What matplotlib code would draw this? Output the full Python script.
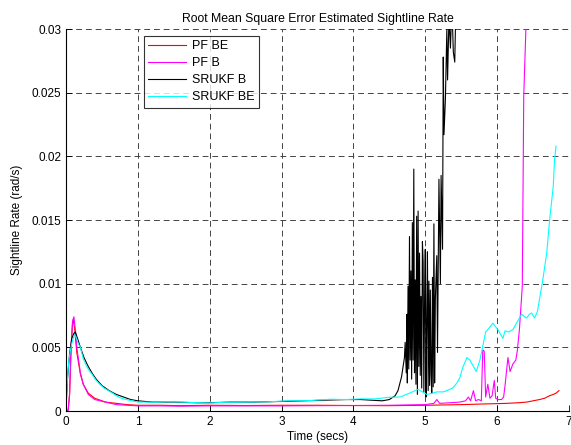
import numpy as np
import matplotlib
matplotlib.use("Agg")
import matplotlib.pyplot as plt

plt.rcParams['font.family'] = ['Liberation Sans', 'DejaVu Sans']

# PF BE
t_pf_be = [0, 0.03, 0.05, 0.07, 0.09, 0.10, 0.12, 0.15, 0.2, 0.24,
           0.31, 0.4, 0.55, 0.7, 0.85, 1.0, 1.3, 1.6, 2.0, 2.5,
           3.0, 3.5, 4.0, 4.5, 5.0, 5.2, 5.5, 5.8, 6.13, 6.3,
           6.41, 6.5, 6.59, 6.66, 6.73, 6.78, 6.82, 6.86]
v_pf_be = [0, 0.0001, 0.0013, 0.0048, 0.0068, 0.0072, 0.0065, 0.0046, 0.0029, 0.0021,
           0.0014, 0.0010, 0.0007, 0.0006, 0.0005, 0.00045, 0.00045, 0.00042, 0.00045, 0.00043,
           0.00045, 0.00045, 0.00043, 0.00042, 0.00045, 0.00047, 0.0005, 0.00055, 0.0006, 0.00065,
           0.0007, 0.0008, 0.0009, 0.0010, 0.0012, 0.0013, 0.0014, 0.0016]

# PF B
t_pf_b = [0, 0.03, 0.05, 0.07, 0.09, 0.11, 0.13, 0.15, 0.2, 0.24,
          0.31, 0.4, 0.55, 0.7, 0.85, 1.0, 1.3, 1.6, 2.0, 2.5,
          3.0, 3.5, 4.0, 4.5, 4.8, 5.0, 5.12, 5.16, 5.2, 5.35,
          5.48, 5.56, 5.6, 5.63, 5.67, 5.7, 5.74, 5.78, 5.8, 5.82,
          5.84, 5.87, 5.9, 5.93, 5.96, 5.98, 6.01, 6.06, 6.09, 6.11,
          6.15, 6.18, 6.22, 6.26, 6.28, 6.31, 6.35, 6.37, 6.40, 6.45]
v_pf_b = [0, 0, 0.0014, 0.0050, 0.0070, 0.0074, 0.0064, 0.0050, 0.0030, 0.0021,
          0.0013, 0.0009, 0.0007, 0.0005, 0.00045, 0.0004, 0.0004, 0.00038, 0.0004, 0.0004,
          0.0004, 0.00042, 0.00043, 0.00045, 0.00048, 0.0005, 0.0006, 0.0009, 0.0006, 0.00065,
          0.0007, 0.0008, 0.0011, 0.0008, 0.0016, 0.0008, 0.0009, 0.0008, 0.0048, 0.0047,
          0.0011, 0.0021, 0.0010, 0.0012, 0.0024, 0.0010, 0.0009, 0.0009, 0.0011, 0.0020,
          0.0042, 0.0031, 0.0037, 0.0040, 0.0047, 0.0064, 0.0098, 0.0247, 0.0300, 0.0360]

# SRUKF B
t_srukf_b = [0, 0.02, 0.05, 0.08, 0.11, 0.13, 0.16, 0.2, 0.25, 0.3,
             0.36, 0.42, 0.5, 0.6, 0.7, 0.8, 0.9, 1.0, 1.2, 1.5,
             1.8, 2.0, 2.3, 2.6, 3.0, 3.3, 3.6, 3.9, 4.1, 4.25,
             4.4, 4.5, 4.58, 4.62, 4.67, 4.71, 4.72, 4.735, 4.745, 4.75,
             4.76, 4.77, 4.78, 4.79, 4.80, 4.81, 4.82, 4.83, 4.84, 4.85,
             4.86, 4.87, 4.88, 4.89, 4.90, 4.91, 4.92, 4.93, 4.94, 4.95,
             4.96, 4.97, 4.98, 4.99, 5.00, 5.01, 5.02, 5.03, 5.04, 5.05,
             5.06, 5.07, 5.08, 5.09, 5.10, 5.11, 5.12, 5.13, 5.14, 5.16,
             5.17, 5.19, 5.21, 5.22, 5.24, 5.25, 5.26, 5.28, 5.30, 5.31,
             5.33, 5.35, 5.37, 5.39, 5.41, 5.43, 5.46]
v_srukf_b = [0.0002, 0.0025, 0.0045, 0.0057, 0.0061, 0.0062, 0.0057, 0.0050, 0.0042, 0.0036,
             0.0030, 0.0025, 0.0020, 0.0016, 0.0013, 0.0011, 0.0009, 0.0008, 0.0007, 0.0007,
             0.00065, 0.00065, 0.0007, 0.0007, 0.00075, 0.0008, 0.00085, 0.0009, 0.0009, 0.00085,
             0.0008, 0.0009, 0.0012, 0.0016, 0.0027, 0.0042, 0.0054, 0.0030, 0.0076, 0.0022,
             0.0098, 0.0033, 0.0137, 0.0040, 0.0110, 0.0025, 0.0148, 0.0040, 0.0190, 0.0030,
             0.0103, 0.0021, 0.0153, 0.0013, 0.0157, 0.0035, 0.0124, 0.0028, 0.0090, 0.0018,
             0.0133, 0.0117, 0.0015, 0.0085, 0.0127, 0.0011, 0.0070, 0.0125, 0.0016, 0.0102,
             0.0020, 0.0095, 0.0030, 0.0014, 0.0105, 0.0019, 0.0147, 0.0022, 0.0088, 0.0122,
             0.0046, 0.0182, 0.0100, 0.0185, 0.0127, 0.0278, 0.0217, 0.0245, 0.0300, 0.0260,
             0.0310, 0.0285, 0.0320, 0.0282, 0.0274, 0.0330, 0.0360]

# SRUKF BE
t_srukf_be = [0, 0.02, 0.04, 0.06, 0.08, 0.10, 0.12, 0.14, 0.17, 0.2,
              0.24, 0.28, 0.32, 0.36, 0.42, 0.47, 0.53, 0.59, 0.65, 0.7,
              0.77, 0.84, 0.92, 1.0, 1.1, 1.25, 1.4, 1.6, 1.8, 2.0,
              2.2, 2.5, 2.8, 3.1, 3.4, 3.67, 3.9, 4.1, 4.3, 4.5,
              4.65, 4.78, 4.9, 5.02, 5.1, 5.16, 5.25, 5.3, 5.38, 5.44,
              5.48, 5.52, 5.55, 5.58, 5.62, 5.66, 5.71, 5.76, 5.79, 5.84,
              5.9, 5.94, 5.98, 6.01, 6.05, 6.08, 6.11, 6.16, 6.22, 6.26,
              6.29, 6.34, 6.38, 6.41, 6.45, 6.48, 6.52, 6.56, 6.59, 6.63,
              6.69, 6.73, 6.78, 6.80, 6.82]
v_srukf_be = [0.0006, 0.0025, 0.0040, 0.0047, 0.0053, 0.0057, 0.0060, 0.0058, 0.0053, 0.0050,
              0.0041, 0.0036, 0.0032, 0.0029, 0.0024, 0.0021, 0.0018, 0.0016, 0.0014, 0.0012,
              0.0010, 0.0009, 0.0008, 0.0007, 0.0007, 0.00068, 0.00072, 0.0007, 0.00066, 0.00063,
              0.00068, 0.0007, 0.00072, 0.0008, 0.00082, 0.00092, 0.0009, 0.00095, 0.00095, 0.00108,
              0.0011, 0.0014, 0.0017, 0.0013, 0.0014, 0.0015, 0.0015, 0.0016, 0.0018, 0.0022,
              0.0026, 0.0034, 0.0038, 0.0042, 0.0040, 0.0036, 0.0031, 0.0040, 0.0048, 0.0062,
              0.0066, 0.0069, 0.0066, 0.0064, 0.0060, 0.0057, 0.0063, 0.0062, 0.0064, 0.0068,
              0.0071, 0.0076, 0.0074, 0.0073, 0.0076, 0.0077, 0.0073, 0.0078, 0.0088, 0.0101,
              0.0124, 0.0150, 0.0176, 0.0198, 0.0208]

x_ticks = [0, 1, 2, 3, 4, 5, 6, 7]
y_ticks = [0, 0.005, 0.01, 0.015, 0.02, 0.025, 0.03]
y_ticklabels = ['0', '0.005', '0.01', '0.015', '0.02', '0.025', '0.03']

fig = plt.figure(figsize=(5.71, 4.45), dpi=100)
ax = fig.add_axes([0.1156, 0.0764, 0.8809, 0.8584])

lw = 0.8
ax.plot(t_pf_be, v_pf_be, color='#ff0000', lw=lw, label='PF BE')
ax.plot(t_pf_b, v_pf_b, color='#ff00ff', lw=lw, label='PF B')
ax.plot(t_srukf_b, v_srukf_b, color='black', lw=lw, label='SRUKF B')
ax.plot(t_srukf_be, v_srukf_be, color='#00ffff', lw=lw, label='SRUKF BE')

ax.set_xlim(0, 7)
ax.set_ylim(0, 0.03)
ax.set_xticks(x_ticks)
ax.set_yticks(y_ticks)
ax.set_yticklabels(y_ticklabels)
ax.tick_params(direction='in', length=4, labelsize=8.5, width=0.6)
ax.grid(True, linestyle=(0, (6, 4)), color='#444444', linewidth=0.7)
ax.set_axisbelow(True)
for side in ['top', 'right']:
    ax.spines[side].set_visible(False)
for side in ['left', 'bottom']:
    ax.spines[side].set_linewidth(0.8)

ax.set_title('Root Mean Square Error Estimated Sightline Rate', fontsize=8.8, pad=5)
ax.set_xlabel('Time (secs)', fontsize=8.5, labelpad=2)
ax.set_ylabel('Sightline Rate (rad/s)', fontsize=8.5, labelpad=6)

leg = ax.legend(loc='upper left', bbox_to_anchor=(0.155, 0.982), fontsize=9,
                frameon=True, fancybox=False, handlelength=3.0, borderpad=0.35,
                labelspacing=0.4, handletextpad=0.5, borderaxespad=0)
leg.get_frame().set_edgecolor('black')
leg.get_frame().set_linewidth(0.8)

fig.savefig('out.png', dpi=100)
